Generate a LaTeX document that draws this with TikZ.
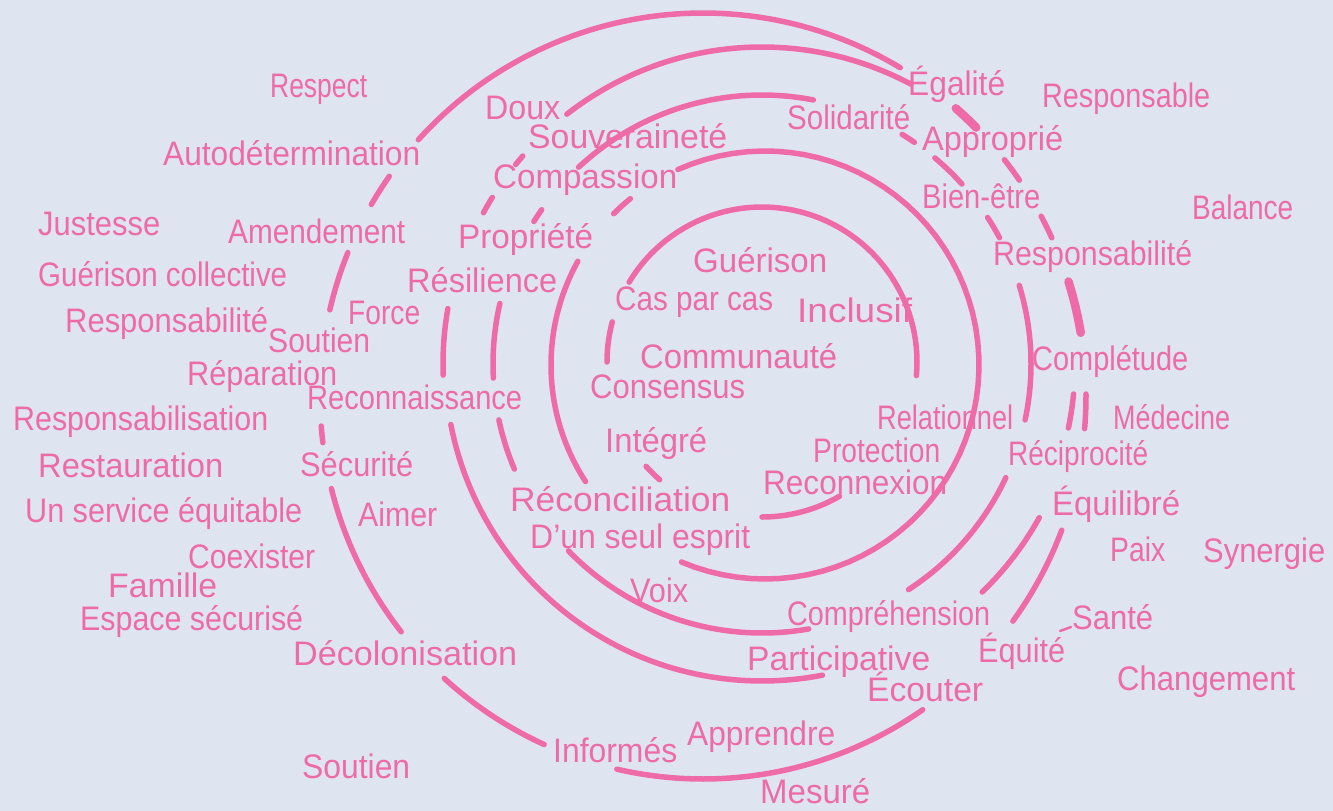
\documentclass[tikz,border=0pt]{standalone}
\usepackage{fontspec}
\setmainfont{Liberation Sans}
\usepackage{graphicx}
\definecolor{bg}{RGB}{222,229,240}
\definecolor{pk}{RGB}{238,107,167}
\newcommand{\hw}[2]{\resizebox{#1pt}{\height}{#2}}
% arc of a ring: [style]{cx}{cy}{r}{start angle}{end angle}, pixel coordinates, y down
\newcommand\rarc[6][ring]{\draw[#1] plot[domain=#5:#6, samples=60, variable=\t] ({#2+#4*cos(\t)},{#3+#4*sin(\t)});}
\tikzset{
  ring/.style={draw=pk, line width=5.5pt, line cap=round, line join=round},
  ringw/.style={ring, line width=8.5pt},
  lbl/.style={text=pk, inner sep=0pt, anchor=base west, font=\fontsize{34}{34}\selectfont},
}
\begin{document}
\begin{tikzpicture}[x=1pt, y=-1pt]
\useasboundingbox (0,0) rectangle (1333,811);
\fill[bg] (0,0) rectangle (1333,811);

% ---------- outer ring (r5): centre (703,396), r 383 ----------
\rarc{703}{396}{383}{-138}{-59}
\rarc{703}{396}{383}{210}{215}
\rarc{703}{396}{383}{193}{202}
\rarc{703}{396}{383}{173}{175.5}
\rarc{703}{396}{383}{142}{166}
\rarc{703}{396}{383}{114.5}{132.5}
\rarc{703}{396}{383}{55}{103}
\rarc{703}{396}{383}{20.5}{36}
% merged r4/r5 strokes on the right
\rarc[ringw]{703}{396}{383}{-48.7}{-44.5}
\rarc{703}{396}{383}{-38.1}{-34.3}
\rarc{703}{396}{383}{-28}{-24.4}
\rarc[ringw]{703}{396}{383}{-17.4}{-9.5}
\rarc{703}{396}{383}{-0.3}{4.9}

% ---------- ring 4: centre (762,364), r 317 ----------
\rarc{762}{364}{317}{-128}{-62}
\rarc{762}{364}{317}{-141}{-139}
\rarc{762}{364}{317}{-151.5}{-148.3}
\rarc{762}{364}{319}{178}{190}
\rarc{762}{364}{317}{79}{169}
\rarc{762}{364}{317}{29}{46}
\rarc{762}{364}{313}{5.5}{11.8}

% ---------- ring 3: centre (762,364), r 269 ----------
\rarc{762}{364}{269}{-133}{-79}
\rarc{762}{364}{269}{-58.6}{-55.5}
\rarc{762}{364}{269}{-50}{-42}
\rarc{762}{364}{269}{-33}{-28}
\rarc{762}{364}{269}{-17}{12}
\rarc{762}{364}{269}{25}{57}
\rarc{762}{364}{269}{80}{136}
\rarc{762}{364}{269}{157}{168}
\rarc{762}{364}{269}{177}{193}
\rarc{762}{364}{269}{212}{215}

% ---------- ring 2: centre (765,365), r 214 ----------
\rarc{765}{365}{214}{-114}{113}
\rarc{765}{365}{214}{147}{209}
\rarc{765}{365}{214}{-135}{-129}

% ---------- ring 1: centre (762,362), r 155 ----------
\rarc{762}{362}{155}{-149}{5}
\rarc{762}{362}{155}{180}{195}
\rarc{762}{362}{155}{60}{90}
\rarc{762}{362}{156}{131}{138}

% small stroke between Equite and Sante
\draw[pk, line width=2.5pt, line cap=round] (1060,631) -- (1071,627);

% ---------- words ----------
\node[lbl] (respect) at (270,97) {\hw{97}{Respect}};
\node[lbl] (autodet) at (163,165) {\hw{257}{Autodétermination}};
\node[lbl] (justesse) at (38,235) {\hw{122}{Justesse}};
\node[lbl] (amendement) at (228,243) {\hw{177}{Amendement}};
\node[lbl] (guerisonc) at (38,286) {\hw{249}{Guérison collective}};
\node[lbl] (responsabiliteL) at (65,332) {\hw{203}{Responsabilité}};
\node[lbl] (force) at (348,324) {\hw{72}{Force}};
\node[lbl] (soutienA) at (268,352) {\hw{102}{Soutien}};
\node[lbl] (reparation) at (187,385) {\hw{150}{Réparation}};
\node[lbl] (resilience) at (407,292) {\hw{150}{Résilience}};
\node[lbl] (responsabilisation) at (13,430) {\hw{255}{Responsabilisation}};
\node[lbl] (restauration) at (38,477) {\hw{185}{Restauration}};
\node[lbl] (securite) at (300,476) {\hw{113}{Sécurité}};
\node[lbl] (service) at (25,522) {\hw{277}{Un service équitable}};
\node[lbl] (aimer) at (358,526) {\hw{79}{Aimer}};
\node[lbl] (coexister) at (188,568) {\hw{127}{Coexister}};
\node[lbl] (famille) at (108,597) {\hw{109}{Famille}};
\node[lbl] (espace) at (80,630) {\hw{223}{Espace sécurisé}};
\node[lbl] (decolonisation) at (293,665) {\hw{224}{Décolonisation}};
\node[lbl] (soutienB) at (302,778) {\hw{108}{Soutien}};
\node[lbl] (souverainete) at (528,148) {\hw{199}{Souveraineté}};
\node[lbl] (compassion) at (493,188) {\hw{184}{Compassion}};
\node[lbl] (propriete) at (458,248) {\hw{135}{Propriété}};
\node[lbl] (doux) at (485,119) {\hw{75}{Doux}};
\node[lbl] (guerison) at (693,272) {\hw{134}{Guérison}};
\node[lbl] (casparcas) at (615,310) {\hw{158}{Cas par cas}};
\node[lbl] (inclusif) at (797,322) {\hw{115}{Inclusif}};
\node[lbl] (communaute) at (640,368) {\hw{197}{Communauté}};
\node[lbl] (consensus) at (590,398) {\hw{155}{Consensus}};
\node[lbl] (solidarite) at (787,129) {\hw{123}{Solidarité}};
\node[lbl] (egalite) at (908,95) {\hw{97}{Égalité}};
\node[lbl] (responsable) at (1042,107) {\hw{168}{Responsable}};
\node[lbl] (approprie) at (922,150) {\hw{141}{Approprié}};
\node[lbl] (bienetre) at (922,208) {\hw{118}{Bien-être}};
\node[lbl] (balance) at (1192,219) {\hw{101}{Balance}};
\node[lbl] (responsabiliteR) at (993,265) {\hw{199}{Responsabilité}};
\node[lbl] (completude) at (1032,370) {\hw{156}{Complétude}};
\node[lbl] (medecine) at (1113,429) {\hw{117}{Médecine}};
\node[lbl] (relationnel) at (877,429) {\hw{136}{Relationnel}};
\node[lbl] (reciprocite) at (1008,465) {\hw{140}{Réciprocité}};
\node[lbl] (protection) at (813,462) {\hw{127}{Protection}};
\node[lbl] (reconnexion) at (763,494) {\hw{184}{Reconnexion}};
\node[lbl] (equilibre) at (1052,515) {\hw{128}{Équilibré}};
\node[lbl] (paix) at (1110,561) {\hw{55}{Paix}};
\node[lbl] (synergie) at (1203,562) {\hw{122}{Synergie}};
\node[lbl] (sante) at (1072,629) {\hw{81}{Santé}};
\node[lbl] (equite) at (978,662) {\hw{87}{Équité}};
\node[lbl] (changement) at (1117,690) {\hw{178}{Changement}};
\node[lbl] (comprehension) at (787,625) {\hw{203}{Compréhension}};
\node[lbl] (participative) at (747,670) {\hw{183}{Participative}};
\node[lbl] (ecouter) at (867,701) {\hw{116}{Écouter}};
\node[lbl] (apprendre) at (687,745) {\hw{148}{Apprendre}};
\node[lbl] (informes) at (553,762) {\hw{124}{Informés}};
\node[lbl] (mesure) at (760,803) {\hw{110}{Mesuré}};
\node[lbl] (voix) at (630,602) {\hw{58}{Voix}};
\node[lbl] (integre) at (605,452) {\hw{102}{Intégré}};
\node[lbl] (reconciliation) at (510,511) {\hw{220}{Réconciliation}};
\node[lbl] (unseul) at (530,548) {\hw{220}{D'un seul esprit}};
\node[lbl] (reconnaissance) at (307,409) {\hw{215}{Reconnaissance}};
\end{tikzpicture}
\end{document}
